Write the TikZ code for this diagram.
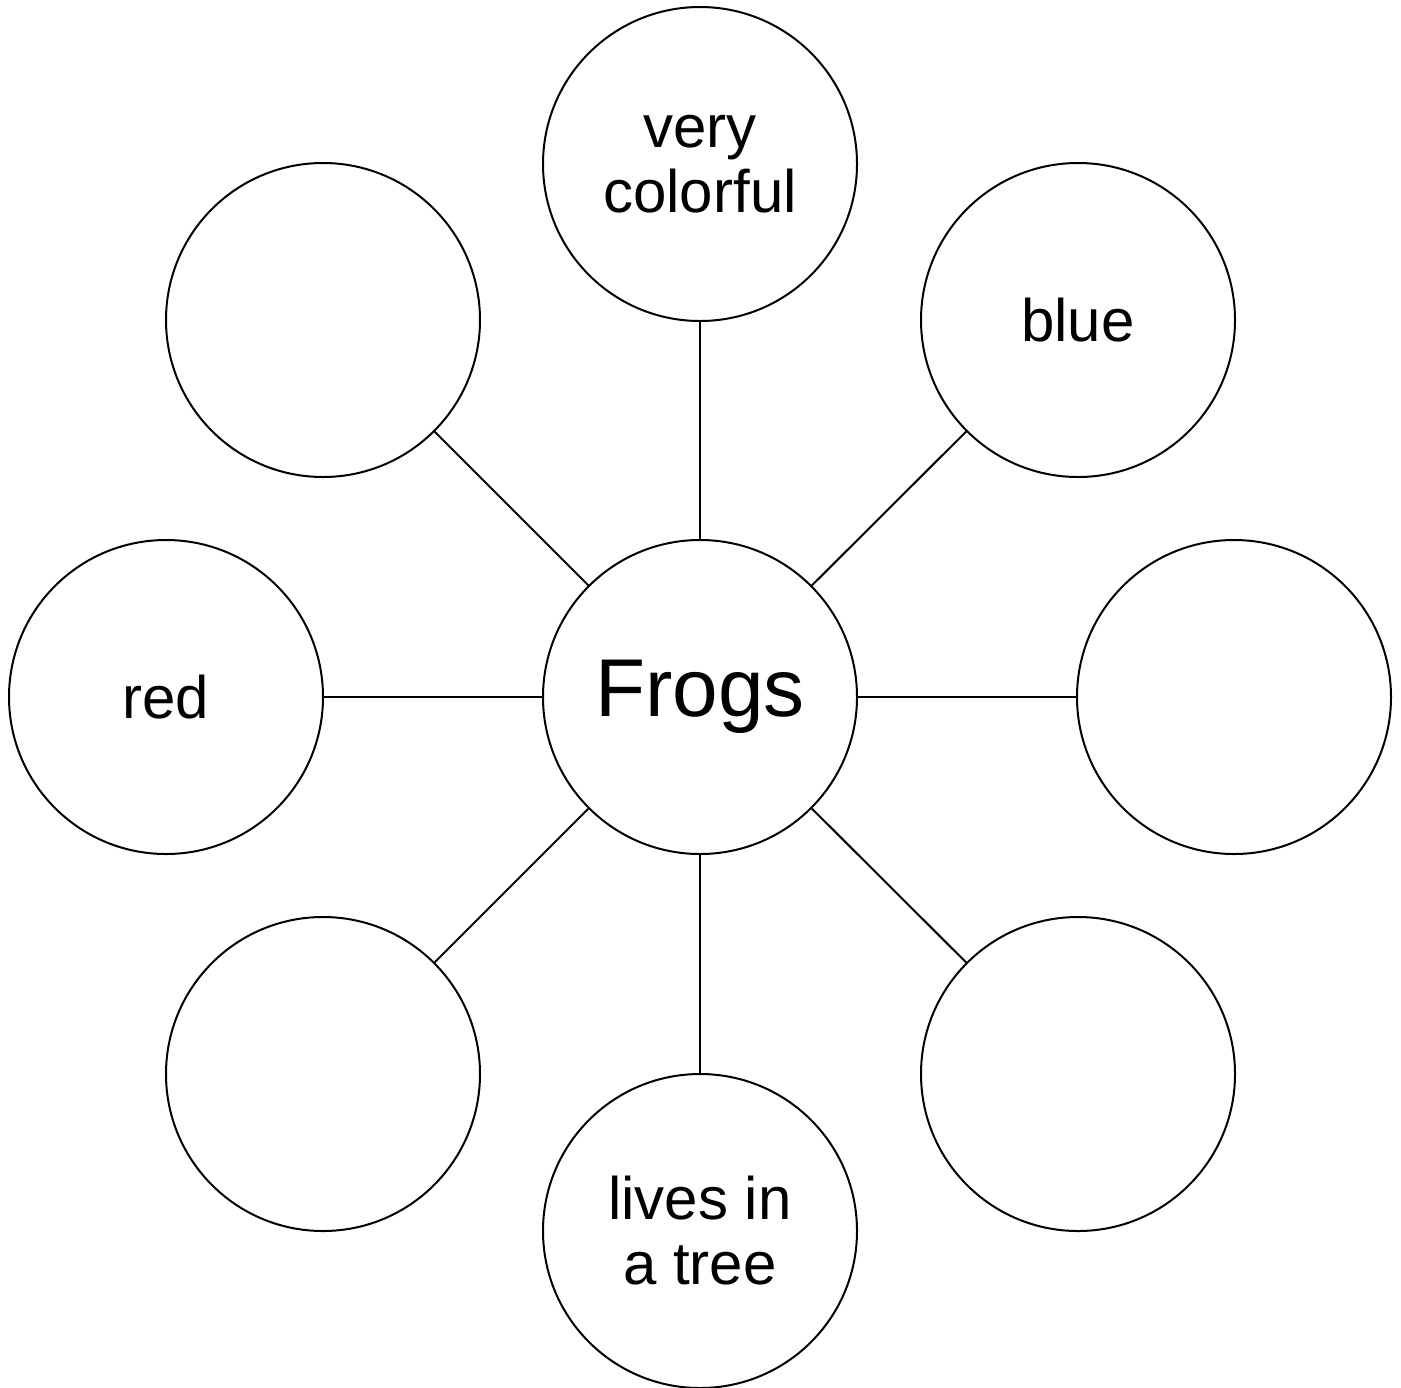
\documentclass[tikz,border=0pt]{standalone}
\usepackage{fontspec}
\setmainfont{Liberation Sans}
\begin{document}
\begin{tikzpicture}[x=0.5pt,y=-0.5pt,
  bub/.style={draw=black,line width=1pt,circle,inner sep=0pt,minimum size=157pt,align=center,
    font=\fontsize{30}{32.5}\selectfont},
  link/.style={draw=black,line width=1pt}]
\useasboundingbox (0,0) rectangle (1401,1387);
\node[bub,font=\fontsize{41}{48}\selectfont] (c) at (700,697) {\raisebox{-2pt}{Frogs}};
\node[bub] (n) at (700,164) {very\\colorful};
\node[bub] (ne) at (1078,320) {blue};
\node[bub] (e) at (1234,697) {};
\node[bub] (se) at (1078,1074) {};
\node[bub] (s) at (700,1231) {lives in\\a tree};
\node[bub] (sw) at (323,1074) {};
\node[bub] (w) at (166,697) {red};
\node[bub] (nw) at (323,320) {};
\foreach \t in {n,ne,e,se,s,sw,w,nw}{\draw[link] (c) -- (\t);}
\end{tikzpicture}
\end{document}
